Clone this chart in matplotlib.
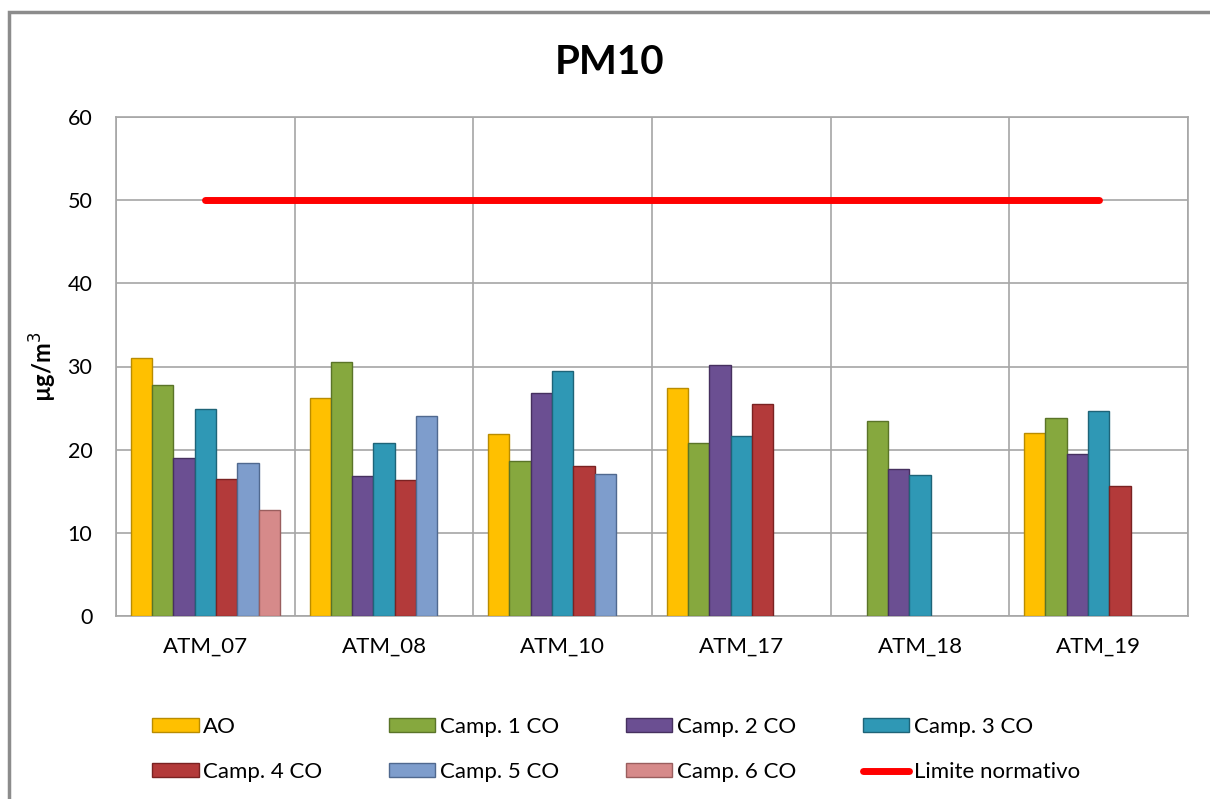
import numpy as np
import matplotlib
matplotlib.use("Agg")
import matplotlib.pyplot as plt
from matplotlib.patches import Rectangle
from matplotlib.lines import Line2D

plt.rcParams["font.family"] = ["Lato", "DejaVu Sans"]

# --------------------------------------------------------------------------- #
# Dati
# --------------------------------------------------------------------------- #
stazioni = ["ATM_07", "ATM_08", "ATM_10", "ATM_17", "ATM_18", "ATM_19"]
serie = ["AO", "Camp. 1 CO", "Camp. 2 CO", "Camp. 3 CO",
         "Camp. 4 CO", "Camp. 5 CO", "Camp. 6 CO"]

ao = [31.0, 26.2, 21.9, 27.4, np.nan, 22.0]
camp1 = [27.8, 30.5, 18.6, 20.8, 23.4, 23.8]
camp2 = [19.0, 16.8, 26.8, 30.2, 17.7, 19.5]
camp3 = [24.9, 20.8, 29.4, 21.6, 16.9, 24.6]
camp4 = [16.5, 16.3, 18.0, 25.5, np.nan, 15.6]
camp5 = [18.4, 24.0, 17.1, np.nan, np.nan, np.nan]
camp6 = [12.7, np.nan, np.nan, np.nan, np.nan, np.nan]
valori = [ao, camp1, camp2, camp3, camp4, camp5, camp6]

limite = 50.0

colori = ["#FFC000", "#86A83E", "#6B4F92", "#2F98B5",
          "#B33A3A", "#7E9DCC", "#D68A8A"]
bordi = ["#B98C00", "#5A7428", "#46305F", "#1E6478",
         "#7A2222", "#50698F", "#9A5E5E"]

# --------------------------------------------------------------------------- #
# Figura
# --------------------------------------------------------------------------- #
fig = plt.figure(figsize=(12.1, 7.99), dpi=100)
fig.patches.append(Rectangle((9 / 1210, -0.01), 1.02, 1 - 12 / 799 + 0.01,
                             transform=fig.transFigure, fill=False,
                             edgecolor="#8C8C8C", lw=2.5))

ax = fig.add_axes([116 / 1210, 1 - 616 / 799, (1188 - 116) / 1210,
                   (616 - 117) / 799])

n = len(stazioni)
k = len(serie)
larghezza = 1.0 / (k + 1.4)
x = np.arange(n)

for i, (vals, c, b) in enumerate(zip(valori, colori, bordi)):
    pos = x + (i - (k - 1) / 2) * larghezza
    ax.bar(pos, vals, width=larghezza, color=c, edgecolor=b, lw=1.0,
           zorder=3)

ax.plot([x[0], x[-1]], [limite, limite], color="#FF0000", lw=5,
        solid_capstyle="round", zorder=4)

ax.set_xlim(-0.5, n - 0.5)
ax.set_ylim(0, 60)
ax.set_yticks(np.arange(0, 61, 10))
ax.set_xticks(x)
ax.set_xticklabels(stazioni)
ax.set_xticks(np.arange(-0.5, n, 1.0), minor=True)
ax.grid(True, which="minor", axis="x", color="#A6A6A6", lw=1.2, zorder=0)
ax.grid(True, which="major", axis="y", color="#A6A6A6", lw=1.2, zorder=0)
ax.tick_params(axis="both", which="both", length=0, colors="#000000")
ax.tick_params(axis="x", labelsize=16, pad=15)
ax.tick_params(axis="y", labelsize=15.5, pad=17)
for s in ax.spines.values():
    s.set_color("#A6A6A6")
    s.set_linewidth(1.2)

ax.set_ylabel("µg/m$^3$", fontsize=17, fontweight="bold")
ax.yaxis.set_label_coords(-(116 - 59) / 1072, 0.5)
fig.text(0.504, 0.922, "PM10", ha="center", va="center", fontsize=29,
         fontweight="bold")

# legenda in ordine per righe (matplotlib riempie per colonne)
handles = [Rectangle((0, 0), 1, 1, facecolor=c, edgecolor=b, lw=1.0)
           for c, b in zip(colori, bordi)]
handles.append(Line2D([0], [0], color="#FF0000", lw=5,
                      solid_capstyle="round"))
etichette = serie + ["Limite normativo"]
ordine = [0, 4, 1, 5, 2, 6, 3, 7]
fig.legend([handles[j] for j in ordine], [etichette[j] for j in ordine],
           ncol=4, loc="center", bbox_to_anchor=(0.509, 0.062),
           frameon=False, fontsize=16, handlelength=2.1, handleheight=0.6,
           handletextpad=0.2, columnspacing=3.0, labelspacing=1.15)

fig.savefig("out.png", dpi=100)
